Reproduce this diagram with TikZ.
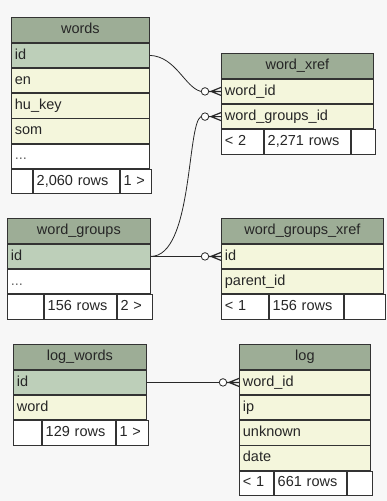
\documentclass[tikz,border=0pt]{standalone}
\usepackage{fontspec}
\setmainfont{Liberation Sans}
\usepackage{xcolor}
\usetikzlibrary{positioning}
\definecolor{canvas}{RGB}{247,247,247}
\definecolor{edge}{RGB}{51,51,51}
\definecolor{headfill}{RGB}{157,173,150}
\definecolor{keyfill}{RGB}{189,207,185}
\definecolor{colfill}{RGB}{244,246,220}
\definecolor{wire}{RGB}{40,40,40}
\tikzset{
  cell/.style   ={rectangle, draw=edge, line width=0.8pt, fill=white, inner xsep=3.5pt, inner ysep=0pt,
                  minimum height=24.4pt, text height=10.5pt, text depth=3pt, align=left,
                  font=\fontsize{14.5}{16}\selectfont, text=black!85},
  tw/.style     ={minimum width=#1, text width=#1-7pt},
  head/.style   ={cell, fill=headfill, minimum height=25pt, align=center, anchor=north west},
  keyrow/.style ={cell, fill=keyfill, below=0pt of #1},
  colrow/.style ={cell, fill=colfill, below=0pt of #1},
  morerow/.style={cell, fill=white, text=black!60, below=0pt of #1},
  foot/.style   ={cell, fill=white},
  wire/.style   ={draw=wire, line width=0.8pt},
  crowfoot/.pic ={
    \node[circle, draw=wire, line width=0.8pt, fill=white, minimum size=7.5pt, inner sep=0pt] (-ring) at (-16,0) {};
    \draw[wire, line width=1.2pt] (-12,0) -- (-10,0) -- (0,-4) (-10,0) -- (0,0) (-10,0) -- (0,4);
  },
}
\begin{document}
\begin{tikzpicture}[x=1pt, y=-1pt]
\fill[canvas] (0,0) rectangle (387,501);

% words
\node[head, tw=138pt] (wtitle) at (11,17) {words};
\node[keyrow=wtitle, tw=138pt] (wid) {id};
\node[colrow=wid, tw=138pt] (wen) {en};
\node[colrow=wen, tw=138pt] (whukey) {hu\_key};
\node[colrow=whukey, tw=138pt] (wsom) {som};
\node[morerow=wsom, tw=138pt] (wdots) {...};
\node[foot, tw=21pt, anchor=north west] (wf1) at (wdots.south west) {};
\node[foot, tw=86pt, right=0pt of wf1] (wf2) {2,060 rows};
\node[foot, tw=31pt, right=0pt of wf2] (wf3) {1 >};

% word_xref
\node[head, tw=152pt] (xtitle) at (221,53) {word\_xref};
\node[colrow=xtitle, tw=152pt] (xword) {word\_id};
\node[colrow=xword, tw=152pt] (xgroup) {word\_groups\_id};
\node[foot, tw=42pt, anchor=north west] (xf1) at (xgroup.south west) {< 2};
\node[foot, tw=86pt, right=0pt of xf1] (xf2) {2,271 rows};
\node[foot, tw=24pt, right=0pt of xf2] (xf3) {};

% word_groups
\node[head, tw=143pt] (gtitle) at (7,218) {word\_groups};
\node[keyrow=gtitle, tw=143pt] (gid) {id};
\node[morerow=gid, tw=143pt] (gdots) {...};
\node[foot, tw=36pt, anchor=north west] (gf1) at (gdots.south west) {};
\node[foot, tw=72pt, right=0pt of gf1] (gf2) {156 rows};
\node[foot, tw=35pt, right=0pt of gf2] (gf3) {2 >};

% word_groups_xref
\node[head, tw=162pt] (gxtitle) at (221,218) {word\_groups\_xref};
\node[colrow=gxtitle, tw=162pt] (gxid) {id};
\node[colrow=gxid, tw=162pt] (gxparent) {parent\_id};
\node[foot, tw=47pt, anchor=north west] (gxf1) at (gxparent.south west) {< 1};
\node[foot, tw=74pt, right=0pt of gxf1] (gxf2) {156 rows};
\node[foot, tw=41pt, right=0pt of gxf2] (gxf3) {};

% log_words
\node[head, tw=133pt] (lwtitle) at (13,344) {log\_words};
\node[keyrow=lwtitle, tw=133pt] (lwid) {id};
\node[colrow=lwid, tw=133pt] (lwword) {word};
\node[foot, tw=28pt, anchor=north west] (lwf1) at (lwword.south west) {};
\node[foot, tw=73pt, right=0pt of lwf1] (lwf2) {129 rows};
\node[foot, tw=32pt, right=0pt of lwf2] (lwf3) {1 >};

% log
\node[head, tw=131pt] (ltitle) at (239,344) {log};
\node[colrow=ltitle, tw=131pt] (lword) {word\_id};
\node[colrow=lword, tw=131pt] (lip) {ip};
\node[colrow=lip, tw=131pt] (lunknown) {unknown};
\node[colrow=lunknown, tw=131pt] (ldate) {date};
\node[foot, tw=34pt, anchor=north west] (lf1) at (ldate.south west) {< 1};
\node[foot, tw=72pt, right=0pt of lf1] (lf2) {661 rows};
\node[foot, tw=25pt, right=0pt of lf2] (lf3) {};

% relations
\pic (toword) at (xword.west) {crowfoot};
\pic (togroup) at (xgroup.west) {crowfoot};
\pic (toparent) at (gxid.west) {crowfoot};
\pic (tolog) at (lword.west) {crowfoot};
\draw[wire] (wid.east) .. controls +(26,1) and +(-16,-4) .. (toword-ring.west);
\draw[wire] (gid.east) .. controls +(42,0) and +(-14,8) .. (togroup-ring.west);
\draw[wire] (gid.east) -- (toparent-ring.west);
\draw[wire] (lwid.east) -- (tolog-ring.west);
\end{tikzpicture}
\end{document}
